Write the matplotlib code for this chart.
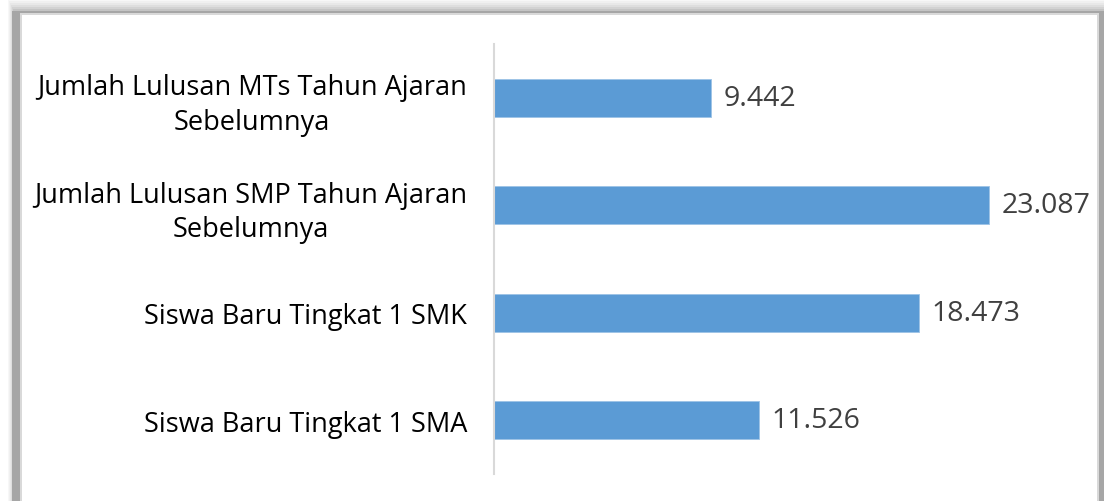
import matplotlib.pyplot as plt
from matplotlib.patches import Rectangle

# Data (top to bottom as shown)
categories = [
    'Jumlah Lulusan MTs Tahun Ajaran\nSebelumnya',
    'Jumlah Lulusan SMP Tahun Ajaran\nSebelumnya',
    'Siswa Baru Tingkat 1 SMK',
    'Siswa Baru Tingkat 1 SMA',
]
label_values = ['9.442', '23.087', '18.473', '11.526']
# bar lengths as drawn in the original (the SMP bar is drawn shorter than its label)
bar_values = [9442, 21520, 18473, 11526]

plt.rcParams['font.family'] = ['Open Sans', 'DejaVu Sans']

W, H = 1104, 502
fig = plt.figure(figsize=(W / 100, H / 100), dpi=100)
fig.patch.set_facecolor('white')

# background axes for the frame and its shadow, in pixel units (y down)
bg = fig.add_axes([0, 0, 1, 1], zorder=0)
bg.set_xlim(0, W)
bg.set_ylim(H, 0)
bg.axis('off')

def px_rect(x, y, w, h, c):
    bg.add_patch(Rectangle((x, y), w, h, facecolor=c, edgecolor='none'))

# top shadow gradient
for i, c in enumerate(['#f7f7f7', '#f0f0f0', '#e8e8e8', '#dedede', '#d2d2d2', '#c4c4c4', '#b8b8b8']):
    px_rect(8 + i, 2 * i, W, H, c)
px_rect(12, 12, W - 12, H, '#a6a6a6')
px_rect(20, 14, 1079, H, '#d9d9d9')
px_rect(22, 16, 1075, H, 'white')

ax = fig.add_axes([494 / W, 1 - 475 / H, 575 / W, 430 / H], zorder=1)
ax.set_facecolor('none')

y = list(range(len(categories)))
ax.barh(y, bar_values, height=0.35, color='#5b9bd5', edgecolor='#9dc3e6', linewidth=0.6)
ax.set_xlim(0, 25000)
ax.set_ylim(len(categories) - 0.5, -0.5)

for yi, v, t in zip(y, bar_values, label_values):
    ax.text(v + 550, yi, t, va='center', ha='left', fontsize=20.5, color='#404040')

ax.set_yticks(y)
ax.set_yticklabels(categories, fontsize=19.5, color='black', linespacing=1.3)
for lbl in ax.get_yticklabels():
    lbl.set_multialignment('center')
ax.tick_params(axis='y', length=0, pad=19.5)
ax.set_xticks([])

for s in ['top', 'right', 'bottom']:
    ax.spines[s].set_visible(False)
ax.spines['left'].set_color('#d9d9d9')
ax.spines['left'].set_linewidth(1.5)

fig.savefig('out.png', dpi=100)
